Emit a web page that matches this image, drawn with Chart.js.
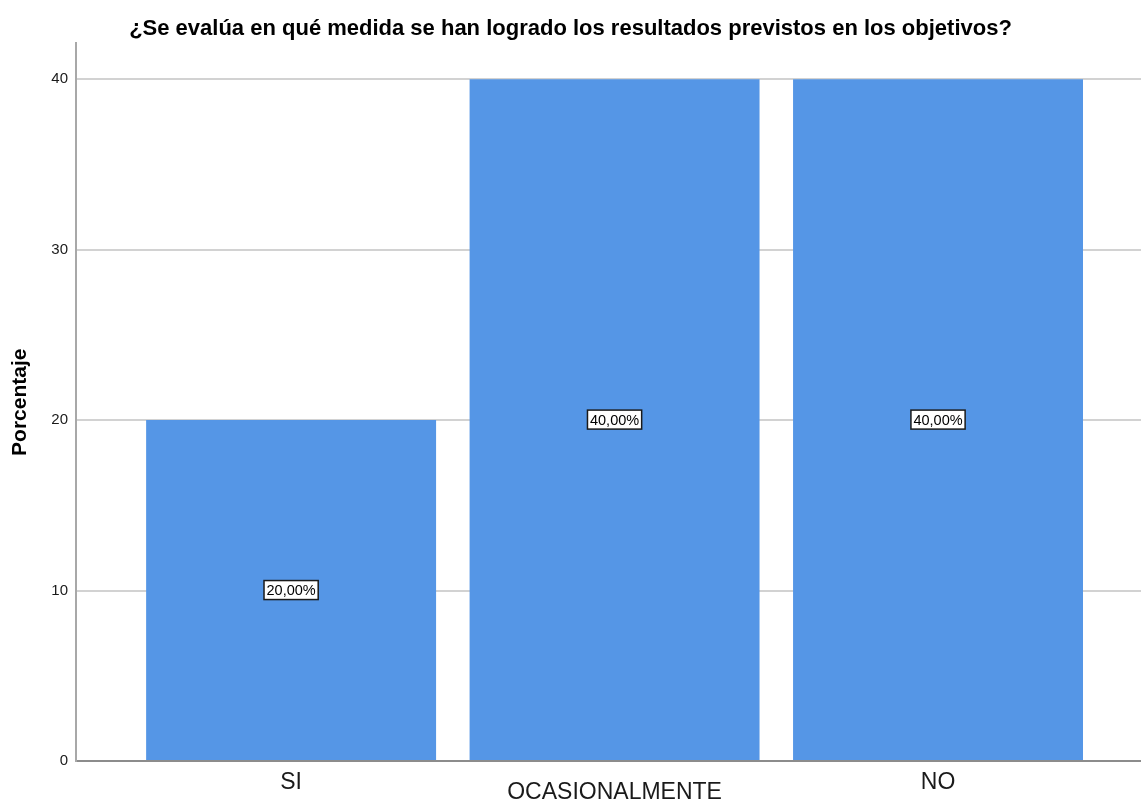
<!DOCTYPE html>
<html>
<head>
<meta charset="utf-8">
<script src="https://cdn.jsdelivr.net/npm/chart.js@4"></script>
<style>
  html, body { margin: 0; padding: 0; background: #ffffff; }
  #wrap { width: 1141px; height: 801px; }
</style>
</head>
<body>
<div id="wrap"><canvas id="c" width="1141" height="801"></canvas></div>
<script>
const categories = ['SI', 'OCASIONALMENTE', 'NO'];
const percentages = [20, 40, 40];
const yTicks = [0, 10, 20, 30, 40];
const chartTitle = '¿Se evalúa en qué medida se han logrado los resultados previstos en los objetivos?';
const yTitle = 'Porcentaje';

const FONT = '"Liberation Sans", Arial, sans-serif';

const barLabels = {
  id: 'barLabels',
  afterDatasetsDraw(chart) {
    const ctx = chart.ctx;
    const meta = chart.getDatasetMeta(0);
    ctx.save();
    ctx.font = '14.5px ' + FONT;
    ctx.textAlign = 'center';
    ctx.textBaseline = 'middle';
    meta.data.forEach((bar, i) => {
      const v = chart.data.datasets[0].data[i].y;
      const txt = v.toFixed(2).replace('.', ',') + '%';
      const cx = bar.x;
      const cy = (bar.y + bar.base) / 2;
      const w = ctx.measureText(txt).width + 5;
      const h = 19;
      ctx.fillStyle = '#ffffff';
      ctx.fillRect(cx - w / 2, cy - h / 2, w, h);
      ctx.lineWidth = 1.5;
      ctx.strokeStyle = '#1a1a1a';
      ctx.strokeRect(cx - w / 2, cy - h / 2, w, h);
      ctx.fillStyle = '#000000';
      ctx.fillText(txt, cx, cy + 1);
    });
    ctx.restore();
  }
};

new Chart(document.getElementById('c'), {
  type: 'bar',
  data: {
    datasets: [{
      data: percentages.map((v, i) => ({ x: i + 1, y: v })),
      backgroundColor: '#5596e6',
      borderWidth: 0,
      barPercentage: 0.8964,
      categoryPercentage: 1
    }]
  },
  options: {
    responsive: false,
    animation: false,
    layout: { padding: { left: 0, right: 0, top: 0, bottom: 0 } },
    plugins: {
      legend: { display: false },
      tooltip: { enabled: false },
      title: {
        display: true,
        text: chartTitle,
        color: '#000000',
        font: { family: FONT, size: 22, weight: 'bold' },
        padding: { top: 16, bottom: 1 }
      }
    },
    scales: {
      x: {
        type: 'linear',
        min: 0.335,
        max: 3.6275,
        offset: false,
        afterBuildTicks(scale) {
          scale.ticks = categories.map((c, i) => ({ value: i + 1 }));
        },
        afterFit(scale) { scale.height = 40; },
        grid: { display: false, offset: false, drawTicks: false },
        border: { display: true, color: '#8c8c8c', width: 2 },
        ticks: {
          autoSkip: false,
          maxRotation: 0,
          minRotation: 0,
          padding: 16,
          color: '#1a1a1a',
          font: { family: FONT, size: 23, lineHeight: '10.5px' },
          callback(value) {
            const idx = Math.round(value) - 1;
            const lab = categories[idx] || '';
            return idx % 2 === 1 ? ['', lab] : lab;
          }
        }
      },
      y: {
        min: 0,
        max: 42.1,
        afterBuildTicks(scale) {
          scale.ticks = yTicks.map(v => ({ value: v }));
        },
        afterFit(scale) { scale.width = 76; },
        grid: { color: '#d2d2d2', lineWidth: 2, drawTicks: false },
        border: { display: true, color: '#a8a8a8', width: 2 },
        ticks: {
          padding: 8,
          color: '#1a1a1a',
          font: { family: FONT, size: 15 }
        },
        title: {
          display: true,
          text: yTitle,
          color: '#000000',
          font: { family: FONT, size: 21, weight: 'bold' },
          padding: { top: 8, bottom: 0 }
        }
      }
    }
  },
  plugins: [barLabels]
});
</script>
</body>
</html>
